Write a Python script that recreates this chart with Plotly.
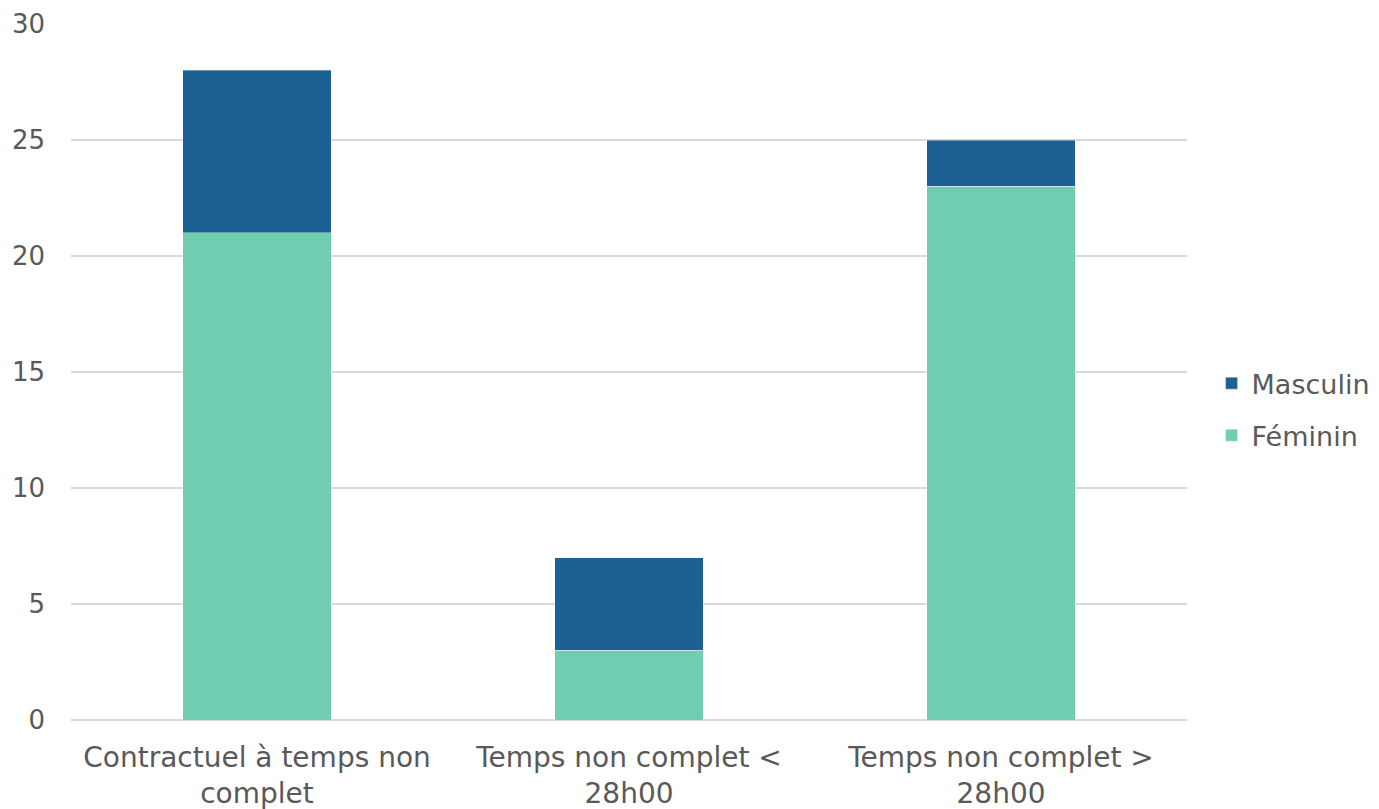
import plotly.graph_objects as go

categories = ["Contractuel à temps non<br>complet", "Temps non complet <<br>28h00", "Temps non complet ><br>28h00"]
feminin = [21, 3, 23]
masculin = [7, 4, 2]

text_color = "#595959"
font_family = "DejaVu Sans, sans-serif"

fig = go.Figure()
fig.add_trace(go.Bar(
    x=categories, y=feminin, name="Féminin",
    marker=dict(color="#70CDB1", line=dict(color="rgba(255,255,255,0.35)", width=1)),
    legendgroup="f", legendrank=2,
))
fig.add_trace(go.Bar(
    x=categories, y=masculin, name="Masculin",
    marker=dict(color="#1D6194", line=dict(color="rgba(255,255,255,0.35)", width=1)),
    legendgroup="m", legendrank=1,
))

fig.update_layout(
    barmode="stack",
    bargap=0.6,
    width=1379, height=809,
    margin=dict(l=71, r=192, t=24, b=89, autoexpand=False),
    plot_bgcolor="white", paper_bgcolor="white",
    font=dict(family=font_family, color=text_color, size=26),
    legend=dict(
        traceorder="grouped",
        tracegroupgap=14,
        x=1.022, y=0.446, xanchor="left", yanchor="middle",
        font=dict(size=27, color=text_color),
        itemwidth=30,
    ),
    xaxis=dict(
        tickfont=dict(size=28, color=text_color),
        showline=False, ticks="",
        ticklabelstandoff=18,
    ),
    yaxis=dict(
        range=[0, 30], dtick=5,
        tickfont=dict(size=26, color=text_color),
        gridcolor="#D9D9D9", gridwidth=1.5,
        zeroline=True, zerolinecolor="#D9D9D9", zerolinewidth=1.5,
        ticks="", ticklabelstandoff=25,
    ),
)

fig.write_html("out.html")
